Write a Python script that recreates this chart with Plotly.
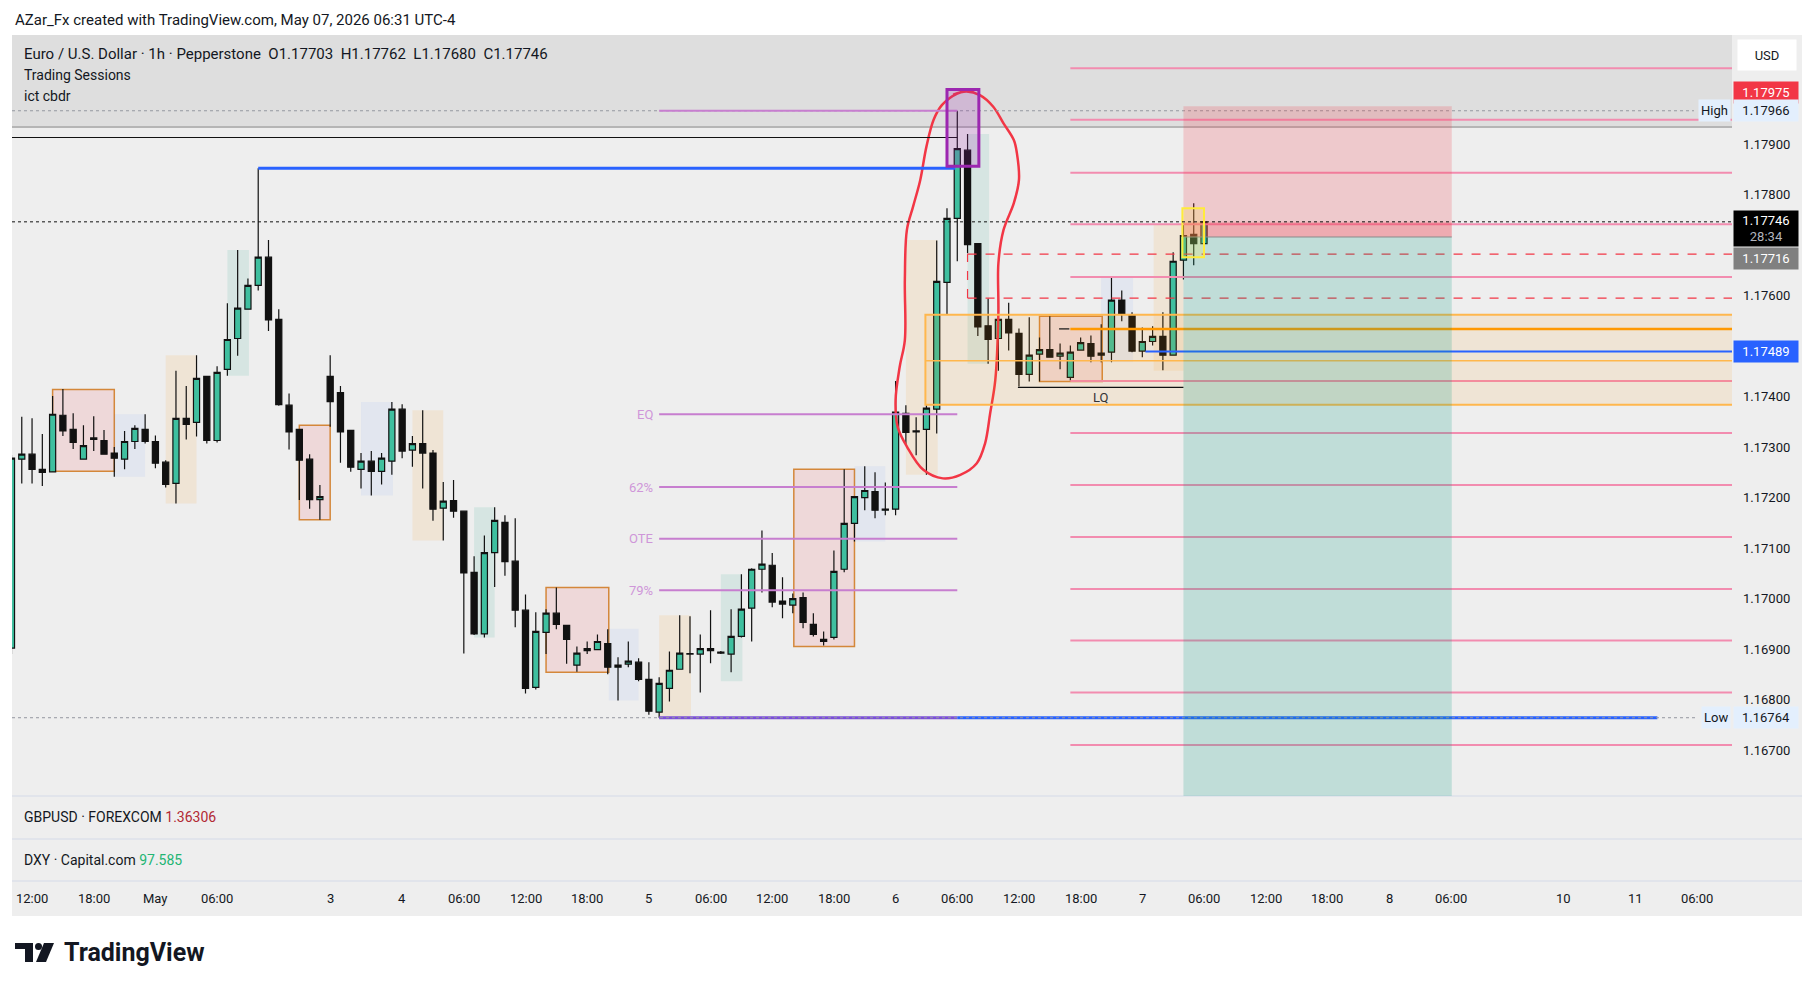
import plotly.graph_objects as go
from plotly.subplots import make_subplots

# EURUSD 1h (Pepperstone), bar 0 = Apr 30 12:00 UTC-4, weekend bars skipped
first_bar = -2
opens = [1.16902, 1.17276, 1.17286, 1.17256, 1.17251, 1.17363, 1.17335, 1.17276, 1.17318, 1.17313,
         1.17288, 1.17276, 1.17311, 1.17335, 1.17311, 1.17270, 1.17228, 1.17357, 1.17349, 1.17440,
         1.17313, 1.17454, 1.17515, 1.17573, 1.17620, 1.17676, 1.17553, 1.17383, 1.17335, 1.17276,
         1.17196, 1.17440, 1.17408, 1.17333, 1.17256, 1.17272, 1.17252, 1.17272, 1.17375, 1.17294,
         1.17307, 1.17288, 1.17179, 1.17194, 1.17173, 1.17052, 1.16930, 1.17091, 1.17151, 1.17074,
         1.16977, 1.16824, 1.16933, 1.16971, 1.16947, 1.16868, 1.16897, 1.16899, 1.16911, 1.16864,
         1.16870, 1.16874, 1.16840, 1.16775, 1.16822, 1.16860, 1.16890, 1.16890, 1.16901, 1.16894,
         1.16890, 1.16925, 1.16981, 1.17058, 1.17066, 1.16995, 1.16987, 1.17002, 1.16949, 1.16915,
         1.16923, 1.17058, 1.17149, 1.17200, 1.17212, 1.17175, 1.17177, 1.17367, 1.17332, 1.17335,
         1.17375, 1.17626, 1.17753, 1.17888, 1.17703, 1.17540, 1.17515, 1.17553, 1.17525, 1.17444,
         1.17484, 1.17493, 1.17480, 1.17438, 1.17492, 1.17505, 1.17482, 1.17488, 1.17591, 1.17561,
         1.17490, 1.17509, 1.17519, 1.17482, 1.17670, 1.17721, 1.17703]
highs = [1.17285, 1.17360, 1.17357, 1.17326, 1.17401, 1.17415, 1.17367, 1.17343, 1.17361, 1.17334,
         1.17300, 1.17332, 1.17343, 1.17365, 1.17323, 1.17274, 1.17451, 1.17421, 1.17482, 1.17440,
         1.17460, 1.17585, 1.17690, 1.17634, 1.17852, 1.17710, 1.17573, 1.17406, 1.17335, 1.17286,
         1.17225, 1.17482, 1.17421, 1.17333, 1.17288, 1.17292, 1.17288, 1.17389, 1.17385, 1.17322,
         1.17373, 1.17294, 1.17231, 1.17235, 1.17173, 1.17084, 1.17125, 1.17181, 1.17165, 1.17159,
         1.17008, 1.16973, 1.16979, 1.17022, 1.16947, 1.16905, 1.16915, 1.16929, 1.16939, 1.16884,
         1.16915, 1.16882, 1.16874, 1.16844, 1.16895, 1.16967, 1.16965, 1.16929, 1.16977, 1.16896,
         1.16979, 1.17048, 1.17060, 1.17135, 1.17090, 1.17042, 1.17010, 1.17012, 1.16971, 1.16935,
         1.17095, 1.17256, 1.17202, 1.17262, 1.17250, 1.17230, 1.17431, 1.17383, 1.17359, 1.17383,
         1.17709, 1.17773, 1.17966, 1.17920, 1.17703, 1.17594, 1.17632, 1.17586, 1.17535, 1.17557,
         1.17517, 1.17559, 1.17505, 1.17501, 1.17517, 1.17521, 1.17543, 1.17636, 1.17610, 1.17567,
         1.17537, 1.17539, 1.17567, 1.17686, 1.17743, 1.17783, 1.17762]
lows = [1.16890, 1.17228, 1.17228, 1.17223, 1.17251, 1.17322, 1.17296, 1.17276, 1.17292, 1.17286,
        1.17241, 1.17256, 1.17296, 1.17307, 1.17258, 1.17220, 1.17188, 1.17315, 1.17321, 1.17307,
        1.17309, 1.17441, 1.17481, 1.17573, 1.17610, 1.17530, 1.17382, 1.17295, 1.17195, 1.17178,
        1.17156, 1.17340, 1.17269, 1.17251, 1.17218, 1.17204, 1.17226, 1.17245, 1.17278, 1.17261,
        1.17218, 1.17154, 1.17115, 1.17160, 1.16891, 1.16928, 1.16923, 1.17023, 1.17045, 1.16943,
        1.16812, 1.16820, 1.16890, 1.16939, 1.16871, 1.16855, 1.16890, 1.16899, 1.16850, 1.16798,
        1.16864, 1.16836, 1.16770, 1.16764, 1.16796, 1.16860, 1.16852, 1.16814, 1.16872, 1.16890,
        1.16854, 1.16923, 1.16915, 1.17012, 1.16983, 1.16961, 1.16971, 1.16941, 1.16925, 1.16907,
        1.16919, 1.17052, 1.17113, 1.17175, 1.17159, 1.17165, 1.17165, 1.17303, 1.17284, 1.17245,
        1.17327, 1.17562, 1.17668, 1.17684, 1.17520, 1.17465, 1.17451, 1.17491, 1.17420, 1.17430,
        1.17430, 1.17478, 1.17454, 1.17432, 1.17492, 1.17468, 1.17468, 1.17468, 1.17549, 1.17488,
        1.17478, 1.17501, 1.17452, 1.17482, 1.17632, 1.17660, 1.17680]
closes = [1.17278, 1.17286, 1.17256, 1.17250, 1.17365, 1.17332, 1.17309, 1.17303, 1.17315, 1.17286,
          1.17278, 1.17311, 1.17337, 1.17311, 1.17268, 1.17226, 1.17357, 1.17345, 1.17436, 1.17313,
          1.17448, 1.17513, 1.17575, 1.17620, 1.17676, 1.17552, 1.17384, 1.17330, 1.17274, 1.17196,
          1.17202, 1.17390, 1.17330, 1.17260, 1.17272, 1.17252, 1.17278, 1.17375, 1.17292, 1.17307,
          1.17288, 1.17177, 1.17193, 1.17173, 1.17051, 1.16930, 1.17091, 1.17155, 1.17073, 1.16977,
          1.16822, 1.16935, 1.16971, 1.16949, 1.16919, 1.16892, 1.16901, 1.16915, 1.16864, 1.16868,
          1.16876, 1.16840, 1.16777, 1.16832, 1.16858, 1.16892, 1.16891, 1.16901, 1.16897, 1.16892,
          1.16925, 1.16979, 1.17058, 1.17068, 1.16993, 1.16989, 1.17000, 1.16953, 1.16929, 1.16919,
          1.17054, 1.17149, 1.17202, 1.17214, 1.17175, 1.17177, 1.17369, 1.17329, 1.17330, 1.17377,
          1.17628, 1.17753, 1.17891, 1.17701, 1.17538, 1.17513, 1.17553, 1.17526, 1.17444, 1.17482,
          1.17493, 1.17478, 1.17486, 1.17488, 1.17507, 1.17480, 1.17486, 1.17591, 1.17563, 1.17490,
          1.17509, 1.17519, 1.17482, 1.17668, 1.17719, 1.17703, 1.17746]

# time axis
tick_bars = [0, 6, 12, 18, 29, 36, 42, 48, 54, 60, 66, 72, 78, 84, 90, 96, 102, 108,
             114, 120, 126, 132, 138, 149, 156, 162]
tick_labels = ['12:00', '18:00', 'May', '06:00', '3', '4', '06:00', '12:00', '18:00', '5',
               '06:00', '12:00', '18:00', '6', '06:00', '12:00', '18:00', '7', '06:00',
               '12:00', '18:00', '8', '06:00', '10', '11', '06:00']
# 1.175 and 1.177 sit under the price tags, so they are not shown
price_ticks = [1.167, 1.168, 1.169, 1.170, 1.171, 1.172, 1.173, 1.174, 1.176,
               1.178, 1.179, 1.180]

# trading sessions boxes: start bar, end bar, top, bottom, kind
sessions = [
    (2, 8, 1.17414, 1.17252, 'asia'), (8, 11, 1.17365, 1.17241, 'lon'),
    (13, 16, 1.17482, 1.17188, 'ny'), (19, 21.1, 1.17690, 1.17441, 'late'),
    (26, 29, 1.17343, 1.17156, 'asia'), (32, 35.1, 1.17389, 1.17204, 'lon'),
    (37, 40, 1.17373, 1.17115, 'ny'), (43, 45, 1.17181, 1.16923, 'late'),
    (50, 56.1, 1.17022, 1.16854, 'asia'), (56.1, 59, 1.16940, 1.16798, 'lon'),
    (61, 64.1, 1.16967, 1.16764, 'ny'), (67, 69.1, 1.17048, 1.16836, 'late'),
    (74.1, 80, 1.17256, 1.16905, 'asia'), (80, 83, 1.17262, 1.17113, 'lon'),
    (85, 88.1, 1.17710, 1.17245, 'ny'), (91, 93.1, 1.17920, 1.17465, 'late'),
    (98, 104.1, 1.17559, 1.17430, 'asia'), (104, 107.1, 1.17636, 1.17468, 'lon'),
    (109.1, 112, 1.17741, 1.17451, 'ny'),
]
session_fill = {'asia': 'rgba(242,54,69,0.12)', 'lon': 'rgba(41,98,255,0.06)',
                'ny': 'rgba(255,152,0,0.1)', 'late': 'rgba(8,153,129,0.1)'}

# fib drawn from the May 5 low to the May 6 high
fib_low, fib_high = 1.16764, 1.17966
fib_start, fib_end = 61, 90
fib_ratios = [0, 0.5, 0.62, 0.705, 0.79]
fib_names = ['', 'EQ', '62%', 'OTE', '79%']

# ict cbdr deviation levels
cbdr_start = 101
cbdr_levels = [1.18050, 1.17948, 1.17843, 1.17741, 1.17637, 1.17431, 1.17328,
               1.17225, 1.17122, 1.17019, 1.16917, 1.16814, 1.16710]
cbdr_mid = 1.17534

# short position
pos_start, pos_end = 112, 138.1
entry, stop, last_price = 1.17716, 1.17975, 1.17746

# hand drawn circle around the spike (bar, price)
loop_x = [91.9, 90.0, 88.5, 87.7, 87.0, 86.4, 85.7, 85.1, 84.9, 84.9, 84.4, 84.0, 84.2,
          85.1, 86.7, 88.6, 90.3, 91.9, 92.7, 93.2, 93.7, 94.0, 94.0, 94.5, 95.5, 96.0,
          95.8, 95.5, 94.5, 93.5, 92.2, 90.9, 89.6]
loop_y = [1.18008, 1.18000, 1.17977, 1.17948, 1.17895, 1.17829, 1.17776, 1.17730, 1.17631,
          1.17512, 1.17459, 1.17393, 1.17340, 1.17301, 1.17255, 1.17238, 1.17245, 1.17268,
          1.17307, 1.17367, 1.17433, 1.17565, 1.17664, 1.17730, 1.17783, 1.17829, 1.17882,
          1.17908, 1.17941, 1.17974, 1.17997, 1.18004, 1.17998]

# pixel frame of the screenshot (the page body adds an 8px margin)
OFF = 8
W, H = 1815 - OFF, 991 - OFF
L, R, T, B = 12, 1732, 35, 881
X_RANGE = [-1.95, 165.36]
Y_RANGE = [1.16609, 1.18116]
FONT = 'Roboto'
TXT = '#131722'


def px(x):
    return (x - L) / (R - L)


def py(y):
    return (B - y) / (B - T)


bars = list(range(first_bar, first_bar + len(opens)))

fig = make_subplots(rows=3, cols=1, shared_xaxes=True, vertical_spacing=0,
                    row_heights=[761, 43, 42])

fig.add_trace(go.Candlestick(
    x=bars, open=opens, high=highs, low=lows, close=closes,
    increasing=dict(fillcolor='#3fbf9f', line=dict(color='#111111', width=1.2)),
    decreasing=dict(fillcolor='#111111', line=dict(color='#111111', width=1.2)),
    whiskerwidth=0, hoverinfo='skip', showlegend=False), row=1, col=1)

fig.add_trace(go.Scatter(x=loop_x, y=loop_y, mode='lines', line=dict(color='#f23645', width=2.5, shape='spline'),
                         hoverinfo='skip', showlegend=False), row=1, col=1)

shapes = []
annotations = []


def seg(x0, x1, y, color, width=2, dash='solid', layer='above', xref='x'):
    shapes.append(dict(type='line', xref=xref, yref='y', x0=x0, x1=x1, y0=y, y1=y,
                       line=dict(color=color, width=width, dash=dash), layer=layer))


def box(x0, x1, y0, y1, fill, color='rgba(0,0,0,0)', width=0, layer='above'):
    shapes.append(dict(type='rect', xref='x', yref='y', x0=x0, x1=x1, y0=y0, y1=y1,
                       fillcolor=fill, line=dict(color=color, width=width), layer=layer))


def text(x, y, s, size=14, color=TXT, anchor='left'):
    annotations.append(dict(xref='paper', yref='paper', x=px(x), y=py(y), text=s, showarrow=False,
                            xanchor=anchor, yanchor='middle', font=dict(family=FONT, size=size, color=color)))


def tag(price, s, bg, fg, yshift=0, h=17):
    annotations.append(dict(xref='paper', yref='y', x=px(1733), y=price, xanchor='left', yanchor='middle',
                            text=s, showarrow=False, bgcolor=bg, width=60, height=h, borderpad=2,
                            align='center', yshift=yshift, font=dict(family=FONT, size=13, color=fg)))


# frame, top band, pane separators
shapes.append(dict(type='rect', xref='paper', yref='paper', x0=px(12), x1=px(1802), y0=py(916), y1=py(35),
                   fillcolor='#eeeeee', line=dict(width=0), layer='below'))
shapes.append(dict(type='rect', xref='paper', yref='y', x0=0, x1=1, y0=1.17934, y1=1.1815,
                   fillcolor='#dedede', line=dict(width=0), layer='below'))
seg(0, 1, 1.17934, '#b5b5b5', 2, layer='below', xref='paper')
for yy in [796, 839, 881]:
    shapes.append(dict(type='line', xref='paper', yref='paper', x0=px(12), x1=px(1802), y0=py(yy), y1=py(yy),
                       line=dict(color='#dde1ea', width=1.5), layer='above'))

# sessions
for x0, x1, top, bot, kind in sessions:
    if kind == 'asia':
        box(x0, x1, bot, top, session_fill[kind], '#d4873a', 1.5, layer='below')
    else:
        box(x0, x1, bot, top, session_fill[kind], layer='below')

# lines across the chart
seg(X_RANGE[0], 90, 1.17913, '#111111', 1)
seg(22, 89.8, 1.17852, '#2962ff', 3)
seg(0, px(1694), fib_high, '#9598a1', 1, 'dot', xref='paper')

# fib
for r, name in zip(fib_ratios, fib_names):
    lvl = fib_high - r * (fib_high - fib_low)
    seg(fib_start, fib_end, lvl, '#c77ecf', 2)
    if name:
        annotations.append(dict(x=fib_start, y=lvl, xref='x', yref='y', text=name, showarrow=False,
                                xanchor='right', yanchor='middle', xshift=-4,
                                font=dict(family=FONT, size=13, color='#cf96d9')))
seg(fib_start, fib_end, fib_low, '#7b4fd8', 3)
seg(fib_end, 158.1, fib_low, '#2962ff', 3)
seg(0, px(1697), fib_low, '#9598a1', 1, 'dot', xref='paper')

# cbdr
for lvl in cbdr_levels:
    seg(cbdr_start, 170, lvl, '#f28caf', 2)

# orange range box
box(86.9, 170, 1.17384, 1.17562, 'rgba(255,152,0,0.1)', '#ffb74d', 2)
seg(86.9, 170, 1.17471, '#ffb74d', 1.5)
seg(cbdr_start, 170, cbdr_mid, '#ff9800', 2.5)
seg(99.9, 100.9, cbdr_mid, '#111111', 1.2)
seg(108.3, 170, 1.17489, '#2962ff', 2)

# red dashed zone
seg(91, 170, 1.17682, '#f23645', 1.2, 'dash')
seg(91, 170, 1.17595, '#f23645', 1.2, 'dash')
shapes.append(dict(type='line', xref='x', yref='y', x0=91, x1=91, y0=1.17595, y1=1.17682,
                   line=dict(color='#f23645', width=1.2, dash='dash')))

# liquidity line
seg(95.9, 112, 1.17418, '#111111', 1.2)
annotations.append(dict(x=104, y=1.17399, xref='x', yref='y', text='LQ', showarrow=False,
                        font=dict(family=FONT, size=13, color='#333333')))

# position tool
box(pos_start, pos_end, entry, stop, 'rgba(242,54,69,0.2)')
box(pos_start, pos_end, 1.1600, entry, 'rgba(8,153,129,0.2)')
box(pos_start, pos_end, entry, last_price, 'rgba(242,54,69,0.2)')
seg(pos_start, pos_end, entry, '#8a8a8a', 1)

# highlight boxes
box(111.9, 114.0, 1.17676, 1.17773, 'rgba(255,235,59,0.2)', '#ffeb3b', 2)
box(89.0, 92.1, 1.17856, 1.18008, 'rgba(156,39,176,0.2)', '#9c27b0', 3)

# last price
seg(0, 1, last_price, '#111111', 1, 'dot', xref='paper')

# time axis labels
for b, lab in zip(tick_bars, tick_labels):
    annotations.append(dict(x=b, y=py(898), xref='x', yref='paper', text=lab, showarrow=False,
                            xanchor='center', yanchor='middle', font=dict(family=FONT, size=13, color=TXT)))

# legend texts
text(13, 20, 'AZar_Fx created with TradingView.com, May 07, 2026 06:31 UTC-4', 15)
text(22, 54, 'Euro / U.S. Dollar · 1h · Pepperstone\u00a0\u00a0O1.17703\u00a0\u00a0H1.17762\u00a0\u00a0L1.17680\u00a0\u00a0C1.17746', 15)
text(22, 75, 'Trading Sessions')
text(22, 96, 'ict cbdr')
text(22, 817, "GBPUSD · FOREXCOM <span style='color:#b22833'>1.36306</span>")
text(22, 860, "DXY · Capital.com <span style='color:#22b573'>97.585</span>")
text(62, 953, '<b>TradingView</b>', 25, '#131722')

# TradingView logo
shapes.append(dict(type='rect', xref='paper', yref='paper', x0=px(15), x1=px(33), y0=py(949), y1=py(943),
                   fillcolor='#131722', line=dict(width=0)))
shapes.append(dict(type='rect', xref='paper', yref='paper', x0=px(25), x1=px(33), y0=py(962), y1=py(943),
                   fillcolor='#131722', line=dict(width=0)))
shapes.append(dict(type='circle', xref='paper', yref='paper', x0=px(35), x1=px(42), y0=py(950), y1=py(943),
                   fillcolor='#131722', line=dict(width=0)))
shapes.append(dict(type='path', xref='paper', yref='paper',
                   path=f'M {px(44)},{py(943)} L {px(54)},{py(943)} L {px(46)},{py(962)} L {px(36)},{py(962)} Z',
                   fillcolor='#131722', line=dict(width=0)))

# price scale labels
annotations.append(dict(xref='paper', yref='paper', x=px(1767), y=py(55), text='USD', showarrow=False,
                        xanchor='center', yanchor='middle', bgcolor='#ffffff', width=54, height=26,
                        borderpad=2, font=dict(family=FONT, size=13, color=TXT)))
tag(stop, '1.17975', '#f23645', '#ffffff', yshift=14)
tag(fib_high, '1.17966', '#e3effd', TXT)
annotations.append(dict(xref='paper', yref='y', x=px(1731), y=fib_high, xanchor='right', yanchor='middle',
                        text='High', showarrow=False, bgcolor='#e3effd', height=17, borderpad=2,
                        font=dict(family=FONT, size=13, color=TXT)))
tag(last_price, "1.17746<br><span style='color:#b2b5be'>28:34</span>", '#000000', '#ffffff', yshift=-6.5, h=31)
tag(entry, '1.17716', '#808080', '#ffffff', yshift=-21.5)
tag(1.17489, '1.17489', '#2962ff', '#ffffff')
tag(fib_low, '1.16764', '#e3effd', TXT)
annotations.append(dict(xref='paper', yref='y', x=px(1731), y=fib_low, xanchor='right', yanchor='middle',
                        text='Low', showarrow=False, bgcolor='#e3effd', height=17, borderpad=2,
                        font=dict(family=FONT, size=13, color=TXT)))

fig.update_layout(
    width=W, height=H,
    margin=dict(l=L - OFF, r=W - (R - OFF), t=T - OFF, b=H - (B - OFF)),
    paper_bgcolor='#ffffff', plot_bgcolor='#eeeeee',
    showlegend=False, hovermode=False,
    boxgap=0.15, boxgroupgap=0.3,
    font=dict(family=FONT, size=13, color=TXT),
    shapes=shapes, annotations=annotations,
)
fig.update_xaxes(range=X_RANGE, showgrid=False, zeroline=False, showline=False,
                 rangeslider_visible=False, ticks='', showticklabels=False)
fig.update_yaxes(showgrid=False, zeroline=False, showline=False, showticklabels=False, ticks='')
fig.update_yaxes(range=Y_RANGE, side='right', showticklabels=True, tickvals=price_ticks,
                 ticktext=[f'{p:.5f}' for p in price_ticks], tickfont=dict(size=13, color=TXT),
                 ticklabelstandoff=10, row=1, col=1)

fig.write_html('out.html')
